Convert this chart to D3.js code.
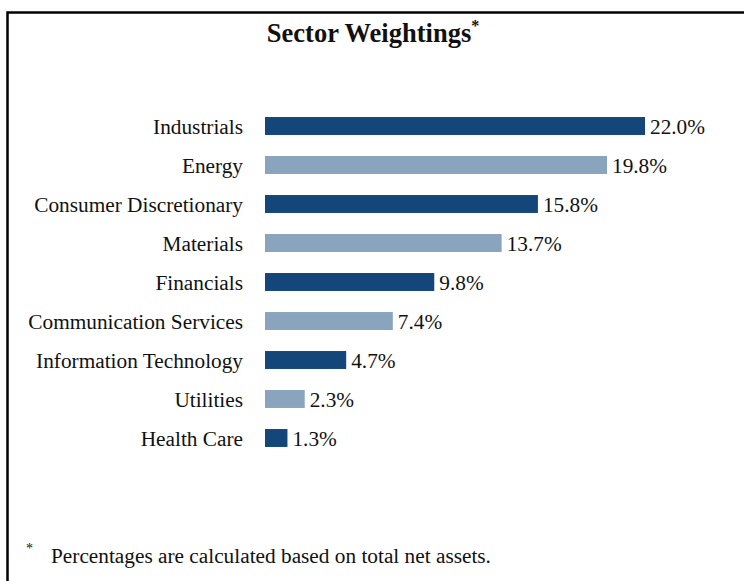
<!DOCTYPE html>
<html><head><meta charset="utf-8">
<script src="https://cdn.jsdelivr.net/npm/d3@7"></script>
<style>body{margin:0;background:#fff}svg{display:block}text{font-family:"Liberation Serif","Times New Roman",serif;fill:#111}</style>
</head><body><div id="c"></div>
<script>
const categories = ["Industrials","Energy","Consumer Discretionary","Materials","Financials","Communication Services","Information Technology","Utilities","Health Care"];
const values = [22.0,19.8,15.8,13.7,9.8,7.4,4.7,2.3,1.3];
const labels = ["22.0%","19.8%","15.8%","13.7%","9.8%","7.4%","4.7%","2.3%","1.3%"];
const colors = ["#14467a","#8aa4be"];

const W=744,H=581;
const svg=d3.select("#c").append("svg").attr("width",W).attr("height",H);
// border
svg.append("path").attr("d",`M7.5,${H} L7.5,12.5 L${W},12.5`).attr("fill","none").attr("stroke","#000").attr("stroke-width",2.5);

const x=d3.scaleLinear().domain([0,22]).range([265,645]);
const y=d3.scaleBand().domain(categories).range([106.5,457.5]).paddingInner(0.54).paddingOuter(0.27);

const t=svg.append("text").attr("x",373).attr("y",42).attr("text-anchor","middle").attr("font-size",26.5).attr("font-weight","bold");
t.append("tspan").text("Sector Weightings");
t.append("tspan").text("*").attr("font-size",16).attr("dy",-11);

svg.selectAll("rect.bar").data(categories).join("rect").attr("class","bar")
 .attr("x",x(0)).attr("y",d=>y(d)).attr("height",y.bandwidth())
 .attr("width",(d,i)=>x(values[i])-x(0)).attr("fill",(d,i)=>colors[i%2]);

const yAxis=d3.axisLeft(y).tickSize(0).tickPadding(0);
const ag=svg.append("g").attr("transform","translate(243,0)").call(yAxis);
ag.select(".domain").remove();
ag.selectAll("text").attr("font-size",21.3).attr("fill","#111").attr("font-family",'"Liberation Serif","Times New Roman",serif').attr("dy","0.36em");

svg.selectAll("text.val").data(categories).join("text").attr("class","val")
 .attr("x",(d,i)=>x(values[i])+5).attr("y",d=>y(d)+y.bandwidth()/2).attr("dy","0.38em")
 .attr("font-size",21.3).text((d,i)=>labels[i]);

svg.append("text").attr("x",26).attr("y",553).attr("font-size",14).text("*");
svg.append("text").attr("x",51).attr("y",563).attr("font-size",21.3).text("Percentages are calculated based on total net assets.");
</script></body></html>
